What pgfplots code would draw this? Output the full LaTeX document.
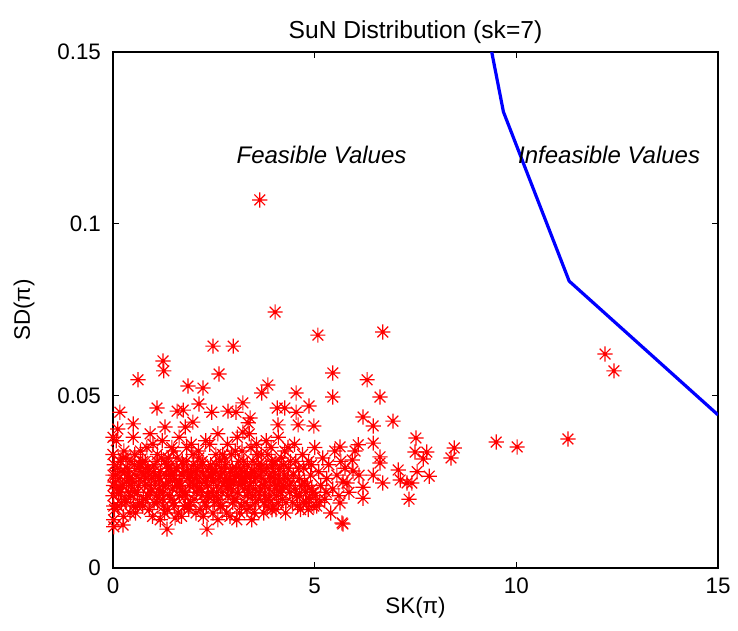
\documentclass[border=0pt]{standalone}
\usepackage{pgfplots}
\pgfplotsset{compat=1.18}
\usepackage{fontspec}
\setmainfont{Liberation Sans}
\pgfdeclareplotmark{mstar}{%
 \pgfpathmoveto{\pgfqpoint{-\pgfplotmarksize}{0pt}}\pgfpathlineto{\pgfqpoint{\pgfplotmarksize}{0pt}}%
 \pgfpathmoveto{\pgfqpoint{0pt}{-\pgfplotmarksize}}\pgfpathlineto{\pgfqpoint{0pt}{\pgfplotmarksize}}%
 \pgfpathmoveto{\pgfqpoint{-0.7071\pgfplotmarksize}{-0.7071\pgfplotmarksize}}\pgfpathlineto{\pgfqpoint{0.7071\pgfplotmarksize}{0.7071\pgfplotmarksize}}%
 \pgfpathmoveto{\pgfqpoint{-0.7071\pgfplotmarksize}{0.7071\pgfplotmarksize}}\pgfpathlineto{\pgfqpoint{0.7071\pgfplotmarksize}{-0.7071\pgfplotmarksize}}%
 \pgfusepathqstroke}
\pgfplotstableread{
x y
0.00 0.021
0.06 0.027
0.12 0.018
0.18 0.031
0.24 0.024
0.30 0.020
0.36 0.029
0.42 0.016
0.48 0.025
0.54 0.033
0.60 0.022
0.66 0.019
0.72 0.028
0.78 0.024
0.84 0.035
0.90 0.017
0.96 0.026
1.02 0.030
1.08 0.021
1.14 0.023
1.20 0.032
1.26 0.018
1.32 0.027
1.38 0.025
1.44 0.020
1.50 0.034
1.56 0.029
1.62 0.016
1.68 0.024
1.74 0.030
1.80 0.022
1.86 0.026
1.92 0.019
1.98 0.033
2.04 0.028
2.10 0.023
2.16 0.017
2.22 0.030
2.28 0.025
2.34 0.021
2.40 0.036
2.46 0.027
2.52 0.019
2.58 0.024
2.64 0.031
2.70 0.022
2.76 0.028
2.82 0.016
2.88 0.026
2.94 0.033
3.00 0.020
3.06 0.029
3.12 0.024
3.18 0.018
3.24 0.031
3.30 0.027
3.36 0.022
3.42 0.035
3.48 0.025
3.54 0.019
3.60 0.030
3.66 0.023
3.72 0.028
3.78 0.021
3.84 0.033
3.90 0.026
3.96 0.018
4.02 0.031
4.08 0.024
4.14 0.029
4.20 0.020
4.26 0.034
4.32 0.026
4.38 0.022
0.03 0.030
0.09 0.023
0.15 0.026
0.21 0.019
0.27 0.034
0.33 0.025
0.39 0.022
0.45 0.031
0.51 0.018
0.57 0.027
0.63 0.024
0.69 0.030
0.75 0.020
0.81 0.026
0.87 0.029
0.93 0.022
0.99 0.036
1.05 0.025
1.11 0.019
1.17 0.028
1.23 0.024
1.29 0.031
1.35 0.017
1.41 0.029
1.47 0.023
1.53 0.026
1.59 0.032
1.65 0.021
1.71 0.027
1.77 0.018
1.83 0.035
1.89 0.024
1.95 0.028
2.01 0.020
2.07 0.026
2.13 0.032
2.19 0.023
2.25 0.027
2.31 0.018
2.37 0.029
2.43 0.022
2.49 0.025
2.55 0.033
2.61 0.020
2.67 0.027
2.73 0.024
2.79 0.030
2.85 0.021
2.91 0.025
2.97 0.019
3.03 0.034
3.09 0.022
3.15 0.027
3.21 0.025
3.27 0.019
3.33 0.030
3.39 0.024
3.45 0.021
3.51 0.028
3.57 0.033
3.63 0.022
3.69 0.026
3.75 0.019
3.81 0.029
3.87 0.023
3.93 0.031
3.99 0.025
4.05 0.021
4.11 0.027
4.17 0.032
4.23 0.024
4.29 0.019
4.35 0.029
4.41 0.025
0.015 0.014
0.08 0.037
0.14 0.022
0.20 0.028
0.26 0.015
0.32 0.032
0.38 0.026
0.44 0.021
0.50 0.038
0.56 0.016
0.62 0.029
0.68 0.034
0.74 0.018
0.80 0.031
0.86 0.021
0.92 0.039
0.98 0.015
1.04 0.027
1.10 0.033
1.16 0.022
1.22 0.037
1.28 0.016
1.34 0.030
1.40 0.021
1.46 0.035
1.52 0.018
1.58 0.024
1.64 0.038
1.70 0.015
1.76 0.028
1.82 0.031
1.88 0.017
1.94 0.036
2.00 0.024
2.06 0.016
2.12 0.034
2.18 0.028
2.24 0.015
2.30 0.037
2.36 0.021
2.42 0.030
2.48 0.016
2.54 0.028
2.60 0.039
2.66 0.018
2.72 0.033
2.78 0.025
2.84 0.036
2.90 0.015
2.96 0.029
3.02 0.026
3.08 0.038
3.14 0.016
3.20 0.034
3.26 0.023
3.32 0.017
3.38 0.039
3.44 0.028
3.50 0.016
3.56 0.036
3.62 0.027
3.68 0.033
3.74 0.016
3.80 0.037
3.86 0.020
3.92 0.035
3.98 0.028
4.04 0.017
4.10 0.038
4.16 0.022
4.22 0.030
4.28 0.016
4.34 0.035
4.40 0.031
0.05 0.025
0.17 0.023
0.29 0.028
0.41 0.026
0.53 0.022
0.65 0.030
0.77 0.027
0.89 0.024
1.01 0.028
1.13 0.026
1.25 0.022
1.37 0.029
1.49 0.027
1.61 0.024
1.73 0.022
1.85 0.028
1.97 0.025
2.09 0.029
2.21 0.021
2.33 0.026
2.45 0.028
2.57 0.022
2.69 0.029
2.81 0.025
2.93 0.023
3.05 0.027
3.17 0.029
3.29 0.025
3.41 0.027
3.53 0.023
3.65 0.029
3.77 0.025
3.89 0.027
4.01 0.023
4.13 0.025
4.25 0.027
4.37 0.024
0.04 0.017
0.11 0.029
0.18 0.022
0.25 0.032
0.32 0.019
0.39 0.027
0.46 0.024
0.53 0.030
0.60 0.018
0.67 0.026
0.74 0.031
0.81 0.020
0.88 0.028
0.95 0.023
1.02 0.019
1.09 0.031
1.16 0.026
1.23 0.020
1.30 0.024
1.37 0.032
1.44 0.027
1.51 0.019
1.58 0.029
1.65 0.025
1.72 0.031
1.79 0.021
1.86 0.018
1.93 0.027
2.00 0.030
2.07 0.022
2.14 0.025
2.21 0.031
2.28 0.019
2.35 0.024
2.42 0.027
2.49 0.021
2.56 0.030
2.63 0.026
2.70 0.018
2.77 0.032
2.84 0.023
2.91 0.028
2.98 0.025
3.05 0.020
3.12 0.031
3.19 0.026
3.26 0.028
3.33 0.021
3.40 0.018
3.47 0.031
3.54 0.026
3.61 0.020
3.68 0.030
3.75 0.024
3.82 0.018
3.89 0.021
3.96 0.030
4.03 0.026
4.10 0.019
4.17 0.023
4.45 0.019
4.52 0.023
4.58 0.018
4.63 0.021
4.68 0.024
4.72 0.019
4.78 0.022
4.84 0.017
4.88 0.020
4.93 0.023
4.98 0.018
5.02 0.021
4.47 0.027
4.53 0.031
4.62 0.026
4.73 0.029
4.82 0.024
4.92 0.030
5.12 0.019
5.28 0.022
0.00 0.027
0.00 0.033
0.01 0.024
0.02 0.018
0.00 0.038
0.02 0.012
0.25 0.0125
1.34 0.0113
2.33 0.0113
1.54 0.0145
1.17 0.014
3.44 0.014
3.07 0.014
2.60 0.014
3.94 0.0169
5.68 0.0131
4.50 0.036
4.55 0.021
4.60 0.029
4.65 0.017
4.70 0.033
4.75 0.025
4.80 0.019
4.85 0.031
4.90 0.027
4.95 0.022
5.00 0.035
5.05 0.018
5.10 0.028
5.15 0.024
5.20 0.032
5.25 0.020
5.30 0.026
5.35 0.030
5.40 0.016
5.45 0.023
5.50 0.034
5.55 0.027
5.60 0.021
5.65 0.031
5.70 0.025
5.75 0.029
5.85 0.022
6.00 0.034
6.10 0.027
5.63 0.0189
5.80 0.0247
5.95 0.0282
5.93 0.0314
6.08 0.0358
5.63 0.0352
5.70 0.0128
6.20 0.0235
6.20 0.0203
6.45 0.0363
6.45 0.0270
6.62 0.0323
6.62 0.0305
6.69 0.0247
7.12 0.0256
7.29 0.0247
7.41 0.0247
7.07 0.0285
7.34 0.0200
7.54 0.0280
7.84 0.0267
7.69 0.0317
7.49 0.0337
7.78 0.0337
8.38 0.0320
8.46 0.0349
9.50 0.0366
10.02 0.0352
7.51 0.0378
6.94 0.0427
6.45 0.0413
6.20 0.0439
6.62 0.0497
6.30 0.0547
5.45 0.0567
5.45 0.0497
6.69 0.0686
11.28 0.0375
12.20 0.0622
12.42 0.0573
0.62 0.0547
1.26 0.0573
1.24 0.0602
2.63 0.0564
1.86 0.0529
2.23 0.0523
3.84 0.0532
3.69 0.0509
4.54 0.0509
0.17 0.0453
1.09 0.0465
1.59 0.0456
1.74 0.0459
2.13 0.0477
2.45 0.0453
2.85 0.0456
3.22 0.0480
3.05 0.0453
4.07 0.0465
4.26 0.0465
4.86 0.0471
4.54 0.0453
0.12 0.0404
0.50 0.0419
1.29 0.0410
1.79 0.0410
1.98 0.0424
3.40 0.0436
3.35 0.0422
4.09 0.0416
4.59 0.0416
4.98 0.0413
3.22 0.0395
2.48 0.0645
2.98 0.0645
5.08 0.0677
4.02 0.0744
3.64 0.1070
}\scatterdata
\pgfplotstableread{
x y
9.39 0.1500
9.68 0.1326
11.31 0.0834
15.00 0.0445
}\boundary
\begin{document}
\begin{tikzpicture}
\begin{axis}[
  scale only axis,
  width=302.5pt, height=258pt,
  xmin=0, xmax=15, ymin=0, ymax=0.15,
  xtick={0,5,10,15},
  ytick={0,0.05,0.1,0.15},
  yticklabels={0,0.05,0.1,0.15},
  scaled y ticks=false,
  tick align=inside,
  major tick length=3pt,
  tick style={black, line width=0.5pt},
  axis line style={black, line width=0.6pt},
  tick label style={font=\fontsize{11.2}{13}\selectfont},
  /pgf/number format/assume math mode=true,
  yticklabel style={xshift=-2.5pt},
  xticklabel style={yshift=-1.5pt},
  clip mode=individual,
  title={SuN Distribution (sk=7)},
  title style={at={(rel axis cs:0.5,1)}, anchor=center, yshift=4pt, font=\fontsize{12.3}{14}\selectfont},
  xlabel={SK(π)},
  xlabel style={at={(rel axis cs:0.5,0)}, anchor=center, yshift=-20pt, font=\fontsize{11.2}{13}\selectfont},
  ylabel={SD(π)},
  ylabel style={at={(rel axis cs:0,0.5)}, anchor=center, yshift=44.5pt, font=\fontsize{11.2}{13}\selectfont},
]
\addplot[only marks, mark=mstar, mark size=3.8pt, color=red, mark options={line width=0.6pt}] table[x=x,y=y] {\scatterdata};
\addplot[blue, line width=1.6pt] table[x=x,y=y] {\boundary};
\node[font=\itshape\fontsize{12}{14}\selectfont] at (axis cs:5.17,0.12) {Feasible Values};
\node[font=\itshape\fontsize{12}{14}\selectfont] at (axis cs:12.3,0.12) {Infeasible Values};
\end{axis}
\pgfresetboundingbox
\useasboundingbox ([shift={(-56.5pt,-31.5pt)}]current axis.south west) rectangle ([shift={(10pt,26pt)}]current axis.north east);
\end{tikzpicture}
\end{document}
